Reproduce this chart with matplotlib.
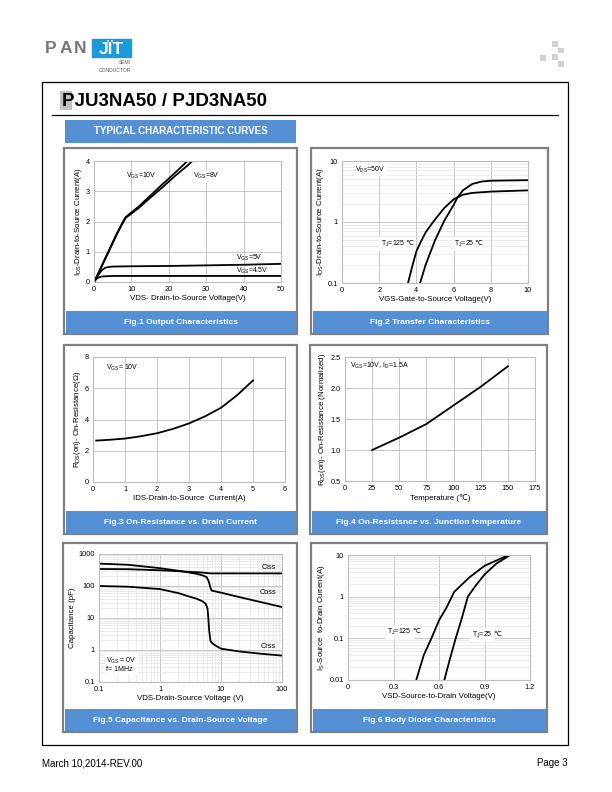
import numpy as np
import matplotlib
matplotlib.use('Agg')
import matplotlib.pyplot as plt
from matplotlib.patches import Rectangle
from matplotlib.ticker import NullFormatter

plt.rcParams['font.family'] = ['Liberation Sans', 'DejaVu Sans']
plt.rcParams['mathtext.fontset'] = 'custom'
plt.rcParams['mathtext.rm'] = 'Liberation Sans'
plt.rcParams['mathtext.it'] = 'Liberation Sans:italic'

# ---- data ----
# Fig.1 output characteristics
vds_10 = [0, 1, 2, 4, 6, 8, 8.5, 9, 10, 12, 15, 18, 20, 22, 25, 26]
id_10 = [0, 0.25, 0.52, 1.05, 1.58, 2.05, 2.15, 2.2, 2.3, 2.5, 2.85, 3.2, 3.42, 3.65, 4.0, 4.12]
vds_8 = [0, 1, 2, 4, 6, 8, 8.5, 9, 10, 12, 15, 18, 20, 22, 25, 27]
id_8 = [0, 0.24, 0.5, 1.02, 1.55, 2.02, 2.12, 2.17, 2.26, 2.45, 2.78, 3.1, 3.32, 3.54, 3.85, 4.08]
vds_5 = [0, 1, 2, 3, 4, 5, 10, 20, 30, 40, 50]
id_5 = [0, 0.2, 0.38, 0.47, 0.5, 0.51, 0.52, 0.53, 0.55, 0.57, 0.6]
vds_45 = [0, 0.5, 1, 2, 3, 5, 50]
id_45 = [0, 0.08, 0.14, 0.18, 0.19, 0.2, 0.2]

# Fig.2 transfer characteristics
vgs_125 = [3.55, 3.8, 4.0, 4.2, 4.5, 5.0, 5.5, 6.0, 6.5, 7.0, 8.0, 10.0]
id_125 = [0.1, 0.2, 0.33, 0.45, 0.68, 1.1, 1.7, 2.35, 2.8, 3.0, 3.15, 3.3]
vgs_25 = [4.2, 4.5, 5.0, 5.5, 6.0, 6.2, 6.5, 7.0, 7.5, 8.0, 10.0]
id_25 = [0.1, 0.2, 0.5, 1.05, 1.9, 2.5, 3.3, 4.2, 4.6, 4.75, 4.85]

# Fig.3 on-resistance vs drain current
ids_r = [0.1, 0.5, 1, 1.5, 2, 2.5, 3, 3.5, 4, 4.5, 5]
rds_on = [2.65, 2.7, 2.78, 2.93, 3.12, 3.4, 3.75, 4.2, 4.75, 5.55, 6.5]

# Fig.4 normalized on-resistance vs temperature
temp = [25, 50, 75, 100, 125, 150]
rds_norm = [1.0, 1.2, 1.42, 1.72, 2.02, 2.35]

# Fig.5 capacitance
vds_c = [0.1, 0.3, 1, 2, 4, 5, 5.8, 6.3, 6.7, 7, 10, 20, 50, 100]
ciss = [340, 335, 310, 290, 270, 262, 255, 250, 249, 248, 248, 248, 248, 248]
coss = [500, 460, 360, 300, 240, 215, 190, 140, 90, 72, 62, 45, 30, 22]
vds_crss = [0.1, 0.3, 1, 2, 3, 4, 5, 5.6, 6, 6.2, 6.4, 6.7, 7, 8, 10, 20, 50, 100]
crss = [100, 95, 80, 60, 47, 40, 33, 28, 20, 10, 4, 2.0, 1.7, 1.4, 1.1, 0.9, 0.75, 0.67]

# Fig.6 body diode
vsd_125 = [0.45, 0.5, 0.55, 0.6, 0.65, 0.7, 0.8, 0.9, 1.0, 1.06]
is_125 = [0.01, 0.04, 0.1, 0.27, 0.55, 1.3, 2.9, 5.5, 8.0, 10]
vsd_25 = [0.635, 0.67, 0.71, 0.75, 0.79, 0.84, 0.9, 0.98, 1.07]
is_25 = [0.01, 0.03, 0.1, 0.3, 1.0, 1.8, 3.4, 6.3, 10]

captions = ['Fig.1 Output Characteristics',
            'Fig.2 Transfer Characteristics',
            'Fig.3 On-Resistance vs. Drain Current',
            'Fig.4 On-Resistsnce vs. Junction temperature',
            'Fig.5 Capacitance vs. Drain-Source Voltage',
            'Fig.6 Body Diode Characteristics']

W, H = 612, 792
fig = plt.figure(figsize=(W / 100, H / 100), dpi=100)

bg = fig.add_axes([0, 0, 1, 1])
bg.set_xlim(0, W)
bg.set_ylim(H, 0)
bg.axis('off')

BLUE = '#5590d4'
FRAME = '#808080'
GRID = '#bdbdbd'
MINOR = '#e3e3e3'

# page header
for ch, cx in zip('PAN', [45, 59.5, 74]):
    bg.text(cx, 48.5, ch, fontsize=12.5, fontweight='bold', color='#777777', va='center')
bg.add_patch(Rectangle((92, 39), 39, 18, color='#1a9ad8'))
bg.text(111.5, 49, 'JÏT', fontsize=12.5, fontweight='bold', color='white', ha='center', va='center')
bg.text(131, 63, 'SEMI', fontsize=3.6, color='#555555', ha='right', va='center')
bg.text(131, 70, 'CONDUCTOR', fontsize=3.6, color='#555555', ha='right', va='center')
for sx, sy in [(552, 41), (558, 47.5), (540, 55), (552, 54), (558, 61)]:
    bg.add_patch(Rectangle((sx, sy), 5.7, 5.7, color='#d2d2d2', lw=0))

bg.add_patch(Rectangle((42, 82), 526, 663, fill=False, ec='black', lw=0.9))
bg.add_patch(Rectangle((60, 91), 12, 19, color='#c0c0c0', lw=0))
bg.text(62, 101, 'PJU3NA50 / PJD3NA50', fontsize=13.5, fontweight='bold', va='center')
bg.plot([52, 558], [115, 115], color='black', lw=0.9)

bg.add_patch(Rectangle((65, 120), 231, 23, color=BLUE, lw=0))
bg.text(180.5, 131.5, 'TYPICAL CHARACTERISTIC CURVES', fontsize=7, fontweight='bold',
        color='white', ha='center', va='center')

bg.text(42, 763, 'March 10,2014-REV.00', fontsize=7, va='center')
bg.text(568, 763, 'Page 3', fontsize=7, va='center', ha='right')

# panel frames (l, t, r, b) and caption bars
frames = [(64, 148, 297, 334), (311, 148, 548, 334),
          (64, 345, 297, 534), (310, 345, 547, 534),
          (63, 543, 297, 732), (311, 543, 547, 732)]
for (l, t, r, b), cap in zip(frames, captions):
    bg.add_patch(Rectangle((l, t), r - l, b - t, fill=False, ec=FRAME, lw=1.6))
    bg.add_patch(Rectangle((l + 1.5, b - 23), r - l - 3, 21.5, color=BLUE, lw=0))
    bg.text((l + r) / 2, b - 12, cap, fontsize=6, fontweight='bold', color='white',
            ha='center', va='center')

TICK = 5.3
NOTE = 5.0


def make_ax(l, t, r, b):
    ax = fig.add_axes([l / W, 1 - b / H, (r - l) / W, (b - t) / H])
    for s in ax.spines.values():
        s.set_color(GRID)
        s.set_linewidth(0.8)
    ax.tick_params(which='both', length=0, labelsize=TICK, pad=3)
    ax.set_axisbelow(True)
    return ax


def lab(ax, xl, yl):
    ax.set_xlabel(xl, fontsize=5.7, labelpad=1.5)
    ax.set_ylabel(yl, fontsize=5.7, labelpad=1.5)


def log_grid(ax, axis='y'):
    ax.grid(True, which='major', color=GRID, lw=0.6)
    ax.grid(True, which='minor', axis=axis, color=MINOR, lw=0.5)


box = dict(fc='white', ec='none', pad=1)
LW = 1.3


def tj_label(ax, x, y, val):
    # mathtext part, then the ℃ sign as plain text right after it
    t = ax.text(x, y, r'T$_{\mathrm{J}}$=' + val, fontsize=NOTE, va='center',
                bbox=dict(fc='white', ec='none', pad=1.5))
    ax.annotate('℃', xy=(1, 0.5), xycoords=t, xytext=(0.1, 0.4), textcoords='offset points',
                fontsize=NOTE, va='center', ha='left')


# Fig.1
ax1 = make_ax(94, 161, 281, 282)
ax1.plot(vds_10, id_10, color='black', lw=LW)
ax1.plot(vds_8, id_8, color='black', lw=LW)
ax1.plot(vds_5, id_5, color='black', lw=LW)
ax1.plot(vds_45, id_45, color='black', lw=LW)
ax1.set_xlim(0, 50)
ax1.set_ylim(0, 4)
ax1.set_xticks([0, 10, 20, 30, 40, 50])
ax1.set_yticks([0, 1, 2, 3, 4])
ax1.grid(True, color=GRID, lw=0.6)
ax1.text(8.5, 3.5, r'V$_{\mathrm{GS}}$=10V', fontsize=NOTE, va='center')
ax1.text(26.5, 3.5, r'V$_{\mathrm{GS}}$=8V', fontsize=NOTE, va='center', bbox=box)
ax1.text(38, 0.8, r'V$_{\mathrm{GS}}$=5V', fontsize=NOTE, va='center')
ax1.text(38, 0.37, r'V$_{\mathrm{GS}}$=4.5V', fontsize=NOTE, va='center')
lab(ax1, 'VDS- Drain-to-Source Voltage(V)', r'I$_{\mathrm{DS}}$-Drain-to-Source Current(A)')

# Fig.2
ax2 = make_ax(342, 161, 528, 283)
ax2.semilogy(vgs_125, id_125, color='black', lw=LW)
ax2.semilogy(vgs_25, id_25, color='black', lw=LW)
ax2.set_xlim(0, 10)
ax2.set_ylim(0.1, 10)
ax2.set_xticks([0, 2, 4, 6, 8, 10])
ax2.set_yticks([0.1, 1, 10])
ax2.set_yticklabels(['0.1', '1', '10'])
ax2.yaxis.set_minor_formatter(NullFormatter())
log_grid(ax2)
ax2.text(0.7, 7.2, r'V$_{\mathrm{DS}}$=50V', fontsize=NOTE, va='center', bbox=box)
tj_label(ax2, 2.1, 0.44, '125')
tj_label(ax2, 6.0, 0.44, '25')
lab(ax2, 'VGS-Gate-to-Source Voltage(V)', r'I$_{\mathrm{DS}}$-Drain-to-Source Current(A)')

# Fig.3
ax3 = make_ax(93, 357, 285, 482)
ax3.plot(ids_r, rds_on, color='black', lw=LW)
ax3.set_xlim(0, 6)
ax3.set_ylim(0, 8)
ax3.set_xticks(range(7))
ax3.set_yticks([0, 2, 4, 6, 8])
ax3.grid(True, color=GRID, lw=0.6)
ax3.text(0.4, 7.3, r'V$_{\mathrm{GS}}$= 10V', fontsize=NOTE, va='center')
lab(ax3, 'IDS-Drain-to-Source  Current(A)', r'R$_{\mathrm{DS}}$(on)- On-Resistance(Ω)')

# Fig.4
ax4 = make_ax(345, 357, 535, 481)
ax4.plot(temp, rds_norm, color='black', lw=LW)
ax4.set_xlim(0, 175)
ax4.set_ylim(0.5, 2.5)
ax4.set_xticks([0, 25, 50, 75, 100, 125, 150, 175])
ax4.set_yticks([0.5, 1.0, 1.5, 2.0, 2.5])
ax4.set_yticklabels(['0.5', '1.0', '1.5', '2.0', '2.5'])
ax4.grid(True, color=GRID, lw=0.6)
ax4.text(5, 2.35, r'V$_{\mathrm{GS}}$=10V, I$_{\mathrm{D}}$=1.5A', fontsize=NOTE, va='center')
lab(ax4, 'Temperature (℃)', r'R$_{\mathrm{DS}}$(on)- On-Resistance (Normalized)')

# Fig.5
ax5 = make_ax(99, 554, 282, 682)
ax5.loglog(vds_c, ciss, color='black', lw=LW)
ax5.loglog(vds_c, coss, color='black', lw=LW)
ax5.loglog(vds_crss, crss, color='black', lw=LW)
ax5.set_xlim(0.1, 100)
ax5.set_ylim(0.1, 1000)
ax5.set_xticks([0.1, 1, 10, 100])
ax5.set_xticklabels(['0.1', '1', '10', '100'])
ax5.set_yticks([0.1, 1, 10, 100, 1000])
ax5.set_yticklabels(['0.1', '1', '10', '100', '1000'])
ax5.xaxis.set_minor_formatter(NullFormatter())
ax5.yaxis.set_minor_formatter(NullFormatter())
log_grid(ax5, 'both')
ax5.text(60, 380, 'Ciss', fontsize=5.3, ha='center', va='center')
ax5.text(60, 62, 'Coss', fontsize=5.3, ha='center', va='center')
ax5.text(60, 1.3, 'Crss', fontsize=5.3, ha='center', va='center')
ax5.text(0.13, 0.35, 'V$_{\\mathrm{GS}}$ = 0V\nf= 1MHz', fontsize=NOTE, va='center',
         linespacing=1.1, bbox=box)
lab(ax5, 'VDS-Drain-Source Voltage (V)', 'Capacitance (pF)')

# Fig.6
ax6 = make_ax(348, 555, 530, 680)
ax6.semilogy(vsd_125, is_125, color='black', lw=LW)
ax6.semilogy(vsd_25, is_25, color='black', lw=LW)
ax6.set_xlim(0, 1.2)
ax6.set_ylim(0.01, 10)
ax6.set_xticks([0, 0.3, 0.6, 0.9, 1.2])
ax6.set_xticklabels(['0', '0.3', '0.6', '0.9', '1.2'])
ax6.set_yticks([0.01, 0.1, 1, 10])
ax6.set_yticklabels(['0.01', '0.1', '1', '10'])
ax6.yaxis.set_minor_formatter(NullFormatter())
log_grid(ax6)
tj_label(ax6, 0.26, 0.14, '125')
tj_label(ax6, 0.82, 0.12, '25')
lab(ax6, 'VSD-Source-to-Drain Voltage(V)', r'I$_{\mathrm{S}}$-Source  to-Drain Current(A)')

fig.savefig('out.png', dpi=100)
